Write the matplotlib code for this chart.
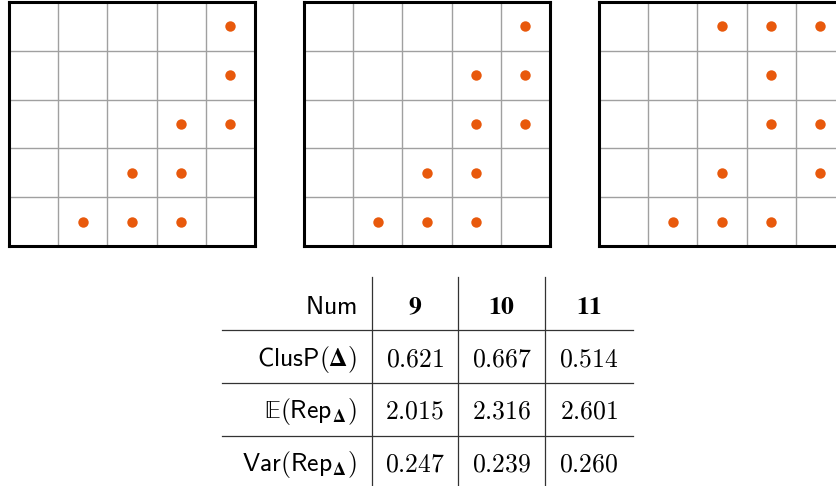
import numpy as np
import matplotlib.pyplot as plt

plt.rcParams['mathtext.fontset'] = 'custom'
plt.rcParams['mathtext.rm'] = 'cmr10'
plt.rcParams['mathtext.it'] = 'cmmi10'
plt.rcParams['mathtext.sf'] = 'cmss10'
plt.rcParams['mathtext.bf'] = 'STIXGeneral:bold'
plt.rcParams['mathtext.fallback'] = 'stix'

# point sets on a 5x5 grid (column, row from bottom)
pts_9 = [(1, 0), (2, 0), (3, 0), (2, 1), (3, 1), (3, 2), (4, 2), (4, 3), (4, 4)]
pts_10 = [(1, 0), (2, 0), (3, 0), (2, 1), (3, 1), (3, 2), (4, 2), (3, 3), (4, 3), (4, 4)]
pts_11 = [(1, 0), (2, 0), (3, 0), (2, 1), (4, 1), (3, 2), (4, 2), (3, 3), (2, 4), (3, 4), (4, 4)]

# table
nums = ['9', '10', '11']
row_labels = [r'$\mathsf{ClusP}(\mathbf{\Delta})$',
              r'$\mathrm{𝔼}(\mathsf{Rep}_{\mathbf{\Delta}})$',
              r'$\mathsf{Var}(\mathsf{Rep}_{\mathbf{\Delta}})$']
clusp = [0.621, 0.667, 0.514]
exp_rep = [2.015, 2.316, 2.601]
var_rep = [0.247, 0.239, 0.260]

W, H = 836, 486
fig = plt.figure(figsize=(W / 100, H / 100), dpi=100)

orange = '#e8590c'
grid_left = [9, 304, 599]
for left, pts in zip(grid_left, [pts_9, pts_10, pts_11]):
    ax = fig.add_axes([left / W, (H - 246) / H, 246 / W, 244 / H])
    ax.set_xlim(0, 5)
    ax.set_ylim(0, 5)
    for k in range(1, 5):
        ax.axvline(k, color='#a0a0a0', lw=1)
        ax.axhline(k, color='#a0a0a0', lw=1)
    xs = [p[0] + 0.5 for p in pts]
    ys = [p[1] + 0.5 for p in pts]
    ax.plot(xs, ys, 'o', color=orange, ms=7.5, mec='none')
    ax.set_xticks([])
    ax.set_yticks([])
    for s in ax.spines.values():
        s.set_linewidth(2.2)
        s.set_color('black')

# table drawn in pixel coordinates
tab = fig.add_axes([0, 0, 1, 1])
tab.set_xlim(0, W)
tab.set_ylim(H, 0)
tab.axis('off')

vlines = [372, 458, 545]
hlines = [330, 383, 436]
row_y = [307, 359, 411, 464]
col_x = [415, 502, 589]
for x in vlines:
    tab.plot([x, x], [277, H], color='#333333', lw=0.9)
for y in hlines:
    tab.plot([222, 633], [y, y], color='#333333', lw=0.9)

fs = 18.5
tab.text(357, row_y[0], r'$\mathsf{Num}$', ha='right', va='center', fontsize=fs)
for x, n in zip(col_x, nums):
    tab.text(x, row_y[0], r'$\mathbf{%s}$' % n, ha='center', va='center', fontsize=fs)

for i, (lab, vals) in enumerate(zip(row_labels, [clusp, exp_rep, var_rep])):
    y = row_y[i + 1]
    tab.text(357, y, lab, ha='right', va='center', fontsize=fs)
    for x, v in zip(col_x, vals):
        tab.text(x, y, r'$%.3f$' % v, ha='center', va='center', fontsize=fs)

fig.savefig('out.png', dpi=100)
